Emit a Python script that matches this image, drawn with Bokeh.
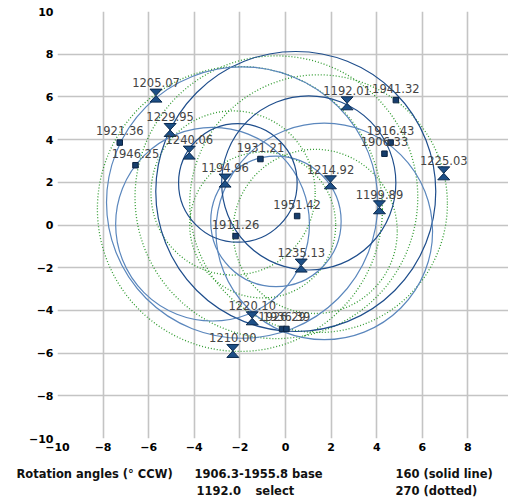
import numpy as np
from bokeh.plotting import figure
from bokeh.layouts import column
from bokeh.models import Range1d, FixedTicker
from bokeh.core.properties import value
from bokeh.embed import file_html
from bokeh.resources import INLINE

# "select" points (hourglass markers)
select_names = ["1192.01", "1194.96", "1199.89", "1205.07", "1210.00", "1214.92",
                "1220.10", "1225.03", "1229.95", "1235.13", "1240.06"]
select_x = [2.70, -2.65, 4.12, -5.68, -2.31, 1.97, -1.46, 6.94, -5.06, 0.69, -4.22]
select_y = [5.70, 2.08, 0.83, 6.06, -5.90, 2.00, -4.37, 2.42, 4.45, -1.90, 3.39]

# "base" points (square markers)
base_names = ["1906.33", "1911.26", "1916.43", "1921.36", "1926.29", "1931.21",
              "1936.39", "1941.32", "1946.25", "1951.42"]
base_x = [4.34, -2.19, 4.61, -7.27, -0.15, -1.10, 0.04, 4.84, -6.58, 0.51]
base_y = [3.34, -0.52, 3.86, 3.86, -4.87, 3.09, -4.87, 5.85, 2.80, 0.42]

# rotation circles, 160 deg (solid)
solid_cx = [0.45, -1.90, -0.42, -3.20, 1.70, 1.02, -2.09]
solid_cy = [1.57, 1.05, 0.17, 0.04, -0.30, 1.97, 1.97]
solid_r = [6.14, 5.95, 2.86, 4.25, 4.75, 3.82, 2.60]
solid_col = ["#1f4e8c", "#5b87bd", "#5b87bd", "#5b87bd", "#5b87bd", "#1f4e8c", "#1f4e8c"]

# rotation circles, 270 deg (dotted)
dot_cx = [-2.00, 1.45, -0.40, -1.00, 1.30, -2.30]
dot_cy = [0.75, 1.00, 1.30, 0.00, -0.30, 1.50]
dot_r = [6.25, 5.65, 6.20, 3.20, 3.60, 3.60]

x_ticks = list(range(-10, 11, 2))
y_ticks = list(range(-10, 11, 2))

# footer legend texts
foot_text = ["Rotation angles (° CCW)", "1906.3-1955.8 base", "160 (solid line)",
             "1192.0", "select", "270 (dotted)"]

p = figure(width=508, height=460, x_range=Range1d(-10, 9.78), y_range=Range1d(-10, 10),
           output_backend="svg", toolbar_location=None,
           min_border_left=57, min_border_right=0, min_border_top=11, min_border_bottom=22)
p.outline_line_color = None
p.background_fill_color = "white"
p.frame_align = False

for ax, ticks in ((p.xaxis, x_ticks), (p.yaxis, y_ticks)):
    ax.ticker = FixedTicker(ticks=ticks)
    ax.axis_line_color = None
    ax.major_tick_line_color = None
    ax.minor_tick_line_color = None
    ax.major_tick_out = 0
    ax.major_tick_in = 0
    ax.major_label_text_font = "DejaVu Sans"
    ax.major_label_text_font_style = "bold"
    ax.major_label_text_font_size = "11px"
    ax.major_label_text_color = "#000000"
    ax.major_label_standoff = 4

for g in (p.xgrid, p.ygrid):
    g.grid_line_color = "#c4c4c4"
    g.grid_line_width = 1.6

# circles
p.circle(x=dot_cx, y=dot_cy, radius=dot_r, fill_color=None,
         line_color="#2f9a2f", line_dash="1 2", line_width=1.3)
p.circle(x=solid_cx, y=solid_cy, radius=solid_r, fill_color=None,
         line_color=solid_col, line_width=1.2)

# hourglass markers as patches (half width/height in pixels converted to data)
hw = 6.0 / 22.8
hh = 6.5 / 21.35
xs, ys = [], []
for x, y in zip(select_x, select_y):
    xs.append([x - hw, x + hw, x, x + hw, x - hw, x])
    ys.append([y + hh, y + hh, y, y - hh, y - hh, y])
p.patches(xs, ys, fill_color="#1d4f86", line_color="#0b2a4f", line_width=1)

p.scatter(x=base_x, y=base_y, marker="square", size=5.5,
          fill_color="#163d6b", line_color="#0a2240", line_width=1)

lab_font = value("DejaVu Sans")
p.text(x=select_x, y=select_y, text=select_names, text_font=lab_font,
       text_font_size="11.5px", text_color="#444444", text_align="center",
       text_baseline="middle", y_offset=-13)
p.text(x=base_x, y=base_y, text=base_names, text_font=lab_font,
       text_font_size="11.5px", text_color="#444444", text_align="center",
       text_baseline="middle", y_offset=-12)

# footer strip in page pixel coordinates
f = figure(width=508, height=41, x_range=Range1d(0, 508), y_range=Range1d(501, 460),
           output_backend="svg", toolbar_location=None, x_axis_type=None, y_axis_type=None,
           min_border=0)
f.frame_align = False
f.outline_line_color = None
f.grid.visible = False
f.text(x=[16, 194, 395, 196, 255, 395], y=[473, 473, 473, 490, 490, 490], text=foot_text,
       text_font=value("DejaVu Sans"), text_font_style="bold", text_font_size="11.5px",
       text_color="#111111", text_baseline="middle", text_align="left")

layout = column(p, f, spacing=0)
open("out.html", "w").write(file_html(layout, INLINE))
